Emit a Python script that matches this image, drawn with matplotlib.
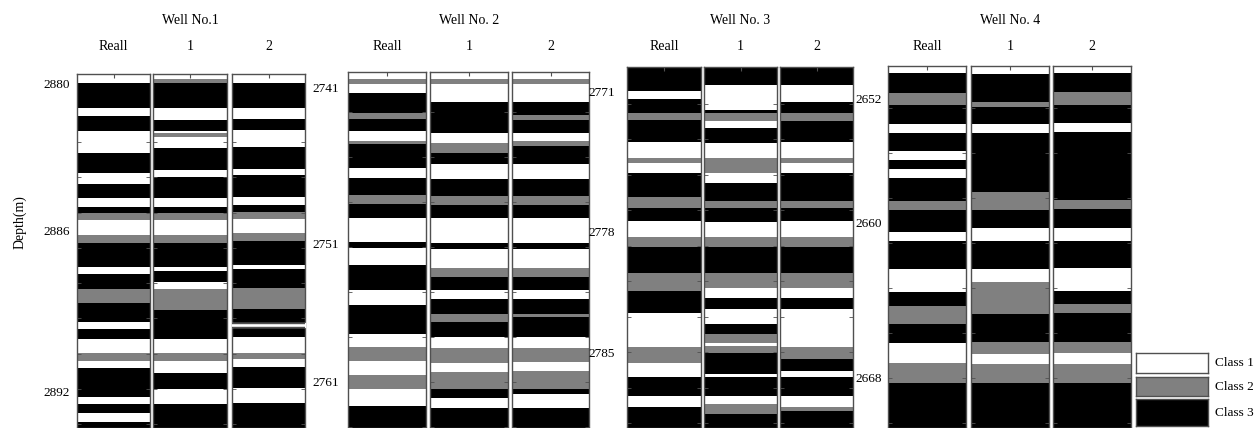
import numpy as np
import matplotlib.pyplot as plt

plt.rcParams['font.family'] = ['Liberation Serif', 'DejaVu Serif']
plt.rcParams['font.size'] = 10

# class 1 = white, class 2 = gray, class 3 = black
class_colors = {1: '#ffffff', 2: '#808080', 3: '#000000'}
class_names = ['Class 1', 'Class 2', 'Class 3']
column_names = ['Reall', '1', '2']
well_names = ['Well No.1', 'Well No. 2', 'Well No. 3', 'Well No. 4']

well_top = [2879.65, 2739.98, 2769.66, 2650.17]
well_bottom = [2893.40, 2764.12, 2789.03, 2670.86]

depth_tick_pos = [[2880.0, 2885.71, 2892.0],
                  [2741.0, 2751.58, 2761.0],
                  [2771.0, 2778.51, 2785.0],
                  [2652.0, 2659.14, 2668.0]]
depth_tick_lab = [['2880', '2886', '2892'],
                  ['2741', '2751', '2761'],
                  ['2771', '2778', '2785'],
                  ['2652', '2660', '2668']]

# small inward ticks on the column edges: first depth and spacing
edge_tick_start = [2882.29, 2742.70, 2771.64, 2652.57]
edge_tick_step = [1.37, 3.05, 1.905, 2.57]

# (top depth of layer, class) from top to bottom
w1_reall = [(2879.65, 1), (2880.00, 3), (2880.97, 1), (2881.28, 3), (2881.86, 1),
            (2882.72, 3), (2883.50, 1), (2883.92, 3), (2884.47, 1), (2884.82, 3),
            (2885.05, 2), (2885.32, 1), (2885.90, 2), (2886.21, 3), (2887.15, 1),
            (2887.42, 3), (2888.00, 2), (2888.54, 3), (2889.28, 1), (2889.55, 3),
            (2889.94, 1), (2890.49, 2), (2890.80, 1), (2891.07, 3), (2892.19, 1),
            (2892.47, 3), (2892.82, 1), (2893.17, 3)]
w1_pred1 = [(2879.65, 1), (2879.84, 2), (2880.00, 3), (2880.97, 1), (2881.44, 3),
            (2881.86, 1), (2881.94, 2), (2882.10, 1), (2882.52, 3), (2883.38, 1),
            (2883.65, 3), (2884.47, 1), (2884.82, 3), (2885.05, 2), (2885.32, 1),
            (2885.90, 2), (2886.21, 3), (2887.15, 1), (2887.30, 3), (2887.73, 1),
            (2888.00, 2), (2888.82, 3), (2889.94, 1), (2890.49, 2), (2890.80, 1),
            (2891.26, 3), (2891.88, 1), (2892.47, 3)]
w1_pred2 = [(2879.65, 1), (2880.00, 3), (2880.97, 1), (2881.40, 3), (2881.83, 1),
            (2882.49, 3), (2883.34, 1), (2883.57, 3), (2884.43, 1), (2884.74, 3),
            (2885.01, 2), (2885.28, 1), (2885.83, 2), (2886.14, 3), (2887.07, 1),
            (2887.22, 3), (2887.96, 2), (2888.78, 3), (2889.86, 1), (2890.49, 2),
            (2890.72, 1), (2891.03, 3), (2891.84, 1), (2892.43, 3)]

w2_reall = [(2739.98, 1), (2740.46, 2), (2740.80, 1), (2741.41, 3), (2742.76, 2),
            (2743.17, 3), (2743.98, 1), (2744.66, 2), (2744.86, 3), (2746.49, 1),
            (2747.17, 3), (2748.32, 2), (2748.93, 3), (2749.88, 1), (2751.51, 3),
            (2751.92, 1), (2753.07, 3), (2754.76, 1), (2755.78, 3), (2757.75, 1),
            (2758.63, 2), (2759.58, 1), (2760.53, 2), (2761.47, 1), (2762.63, 3)]
w2_pred1 = [(2739.98, 1), (2740.46, 2), (2740.80, 1), (2742.02, 3), (2744.12, 1),
            (2744.80, 2), (2745.47, 3), (2746.22, 1), (2747.24, 3), (2748.39, 2),
            (2749.00, 3), (2749.88, 1), (2751.58, 3), (2751.98, 1), (2753.27, 2),
            (2753.88, 3), (2754.76, 1), (2755.37, 3), (2756.39, 2), (2756.93, 3),
            (2757.95, 1), (2758.69, 2), (2759.71, 1), (2760.32, 2), (2761.47, 3),
            (2762.08, 1), (2762.76, 3)]
w2_pred2 = [(2739.98, 1), (2740.46, 2), (2740.80, 1), (2742.02, 3), (2742.90, 2),
            (2743.24, 3), (2744.12, 1), (2744.66, 2), (2745.00, 3), (2746.22, 1),
            (2747.24, 3), (2748.39, 2), (2749.00, 3), (2749.88, 1), (2751.58, 3),
            (2751.98, 1), (2753.27, 2), (2753.88, 3), (2754.76, 1), (2755.37, 3),
            (2756.39, 2), (2756.59, 3), (2757.95, 1), (2758.69, 2), (2759.64, 1),
            (2760.25, 2), (2761.47, 3), (2761.81, 1), (2762.76, 3)]

w3_reall = [(2769.66, 3), (2770.95, 1), (2771.38, 3), (2772.13, 2), (2772.50, 3),
            (2773.68, 1), (2774.54, 2), (2774.81, 1), (2775.35, 3), (2776.63, 2),
            (2777.22, 3), (2777.92, 1), (2778.78, 2), (2779.32, 3), (2780.71, 2),
            (2781.68, 3), (2782.86, 1), (2784.68, 2), (2785.54, 1), (2786.29, 3),
            (2787.31, 1), (2787.90, 3)]
w3_pred1 = [(2769.66, 3), (2770.62, 1), (2771.97, 3), (2772.13, 2), (2772.56, 1),
            (2772.93, 3), (2773.74, 1), (2774.54, 2), (2775.35, 1), (2775.88, 3),
            (2776.85, 2), (2777.22, 3), (2777.97, 1), (2778.78, 2), (2779.32, 3),
            (2780.71, 2), (2781.52, 1), (2782.05, 3), (2782.64, 1), (2783.45, 3),
            (2783.98, 2), (2784.47, 1), (2784.63, 2), (2785.00, 3), (2786.13, 1),
            (2786.29, 3), (2787.31, 1), (2787.74, 2), (2788.27, 3)]
w3_pred2 = [(2769.66, 3), (2770.62, 1), (2771.54, 3), (2772.13, 2), (2772.56, 3),
            (2773.68, 1), (2774.54, 2), (2774.81, 1), (2775.35, 3), (2776.85, 2),
            (2777.22, 3), (2777.92, 1), (2778.78, 2), (2779.32, 3), (2780.71, 2),
            (2781.52, 1), (2782.05, 3), (2782.64, 1), (2784.68, 2), (2785.32, 3),
            (2785.97, 1), (2786.29, 3), (2787.31, 1), (2787.90, 2), (2788.11, 3)]

w4_reall = [(2650.17, 1), (2650.57, 3), (2651.71, 2), (2652.40, 3), (2653.49, 1),
            (2654.00, 3), (2655.03, 1), (2655.54, 3), (2656.06, 1), (2656.57, 3),
            (2657.89, 2), (2658.40, 3), (2659.66, 1), (2660.17, 3), (2661.77, 1),
            (2663.09, 3), (2663.89, 2), (2664.91, 3), (2666.00, 1), (2667.14, 2),
            (2668.29, 3)]
w4_pred1 = [(2650.17, 1), (2650.63, 3), (2652.23, 2), (2652.51, 3), (2653.49, 1),
            (2654.00, 3), (2657.37, 2), (2658.40, 3), (2659.43, 1), (2660.17, 3),
            (2661.77, 1), (2662.51, 2), (2664.34, 3), (2665.94, 2), (2666.63, 1),
            (2667.20, 2), (2668.29, 3)]
w4_pred2 = [(2650.17, 1), (2650.57, 3), (2651.66, 2), (2652.40, 3), (2653.43, 1),
            (2653.94, 3), (2657.83, 2), (2658.34, 3), (2659.43, 1), (2660.17, 3),
            (2661.71, 1), (2663.03, 3), (2663.77, 2), (2664.29, 3), (2665.94, 2),
            (2666.57, 1), (2667.20, 2), (2668.29, 3)]

wells = [[w1_reall, w1_pred1, w1_pred2],
         [w2_reall, w2_pred1, w2_pred2],
         [w3_reall, w3_pred1, w3_pred2],
         [w4_reall, w4_pred1, w4_pred2]]

# (well, column, top, bottom) of the break in a column image
col_breaks = [(0, 2, 2889.32, 2889.48)]

# layout in pixels of the 1258x428 figure
W, H = 1258, 428
col_x = [[77, 153, 232], [348, 430, 512], [627, 704, 780], [888, 971, 1053]]
col_w = [[73, 74, 73], [78, 78, 77], [74, 73, 73], [78, 78, 78]]
col_top = [74, 72, 67, 66]
label_pad = [5, 6.5, 8.5, 4.5]
frame = '#505050'


def draw_column(ax, bands, top, bottom):
    tops = np.array([b[0] for b in bands])
    bases = np.append(tops[1:], bottom)
    colors = [class_colors[b[1]] for b in bands]
    ax.bar(0.5, bases - tops, bottom=tops, width=1.0, color=colors, linewidth=0)
    ax.set_xlim(0, 1)
    ax.set_ylim(bottom, top)
    for s in ax.spines.values():
        s.set_color(frame)
        s.set_linewidth(1.0)
    ax.set_xticks([0.5])
    ax.set_xticklabels([])
    ax.tick_params(axis='x', direction='in', top=True, bottom=False, length=3,
                   color=frame)


fig = plt.figure(figsize=(W / 100, H / 100), dpi=100)

for w in range(4):
    for c in range(3):
        ax = fig.add_axes([col_x[w][c] / W, 0, col_w[w][c] / W, (H - col_top[w]) / H])
        draw_column(ax, wells[w][c], well_top[w], well_bottom[w])
        minor = np.arange(edge_tick_start[w], well_bottom[w], edge_tick_step[w])
        ax.set_yticks(minor, minor=True)
        ax.tick_params(axis='y', which='minor', direction='in', left=True, right=True,
                       length=3, color=frame)
        if c == 0:
            ax.set_yticks(depth_tick_pos[w])
            ax.set_yticklabels(depth_tick_lab[w])
            ax.tick_params(axis='y', which='major', length=0, pad=label_pad[w],
                           labelsize=9.5)
        else:
            ax.set_yticks([])
        for bw, bc, b0, b1 in col_breaks:
            if bw == w and bc == c:
                ax.axhspan(b0, b1, color='white', zorder=5, clip_on=False)
                ax.axhline(b0, color=frame, lw=1, zorder=6)
                ax.axhline(b1, color=frame, lw=1, zorder=6)
        cx = (col_x[w][c] + col_w[w][c] / 2) / W
        fig.text(cx, 1 - 47 / H, column_names[c], ha='center', va='center', fontsize=10)
    mid = (col_x[w][1] + col_w[w][1] / 2) / W
    fig.text(mid, 1 - 21 / H, well_names[w], ha='center', va='center', fontsize=10)

fig.text(20 / W, 1 - 222 / H, 'Depth(m)', rotation=90, ha='center', va='center',
         fontsize=10)

# legend boxes
leg_y = [(353, 373), (377, 396), (399, 426)]
for k, (y0, y1) in enumerate(leg_y):
    lax = fig.add_axes([1136 / W, 1 - y1 / H, 72 / W, (y1 - y0) / H])
    lax.set_facecolor(class_colors[k + 1])
    lax.set_xticks([])
    lax.set_yticks([])
    for s in lax.spines.values():
        s.set_color(frame)
        s.set_linewidth(1.0)
    fig.text(1215 / W, 1 - (y0 + y1) / 2 / H, class_names[k], ha='left', va='center',
             fontsize=9.5)

fig.savefig('out.png', dpi=100)
plt.close(fig)
